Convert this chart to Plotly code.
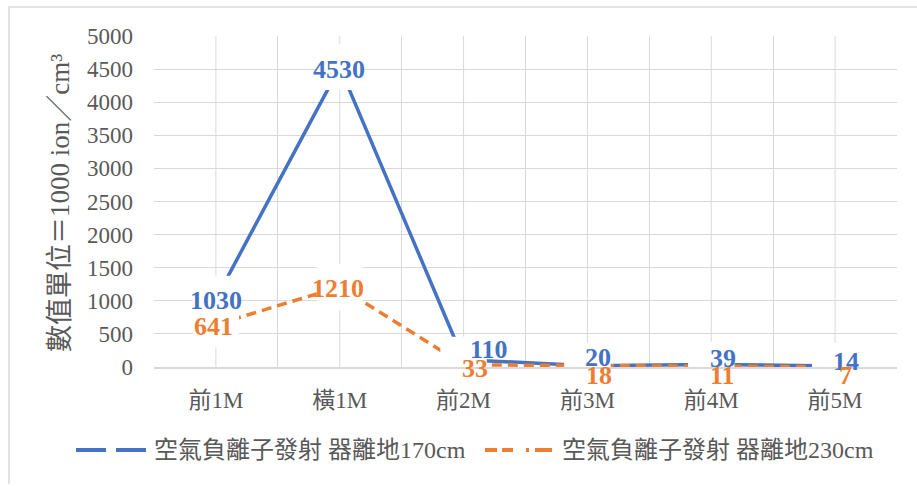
import plotly.graph_objects as go

# Measurement positions and negative-ion readings (unit: 1000 ion/cm³)
categories = ["前1M", "橫1M", "前2M", "前3M", "前4M", "前5M"]
series_170 = [1030, 4530, 110, 20, 39, 14]
series_230 = [641, 1210, 33, 18, 11, 7]
name_170 = "空氣負離子發射 器離地170cm"
name_230 = "空氣負離子發射 器離地230cm"
y_ticks = list(range(0, 5001, 500))

BLUE = "#4472C4"
ORANGE = "#ED7D31"
GRID = "#D9D9D9"
TEXT = "#595959"
SERIF = "Liberation Serif, Times New Roman, Noto Sans CJK TC, serif"

W, H = 917, 486
ML, MR, MT, MB = 154, 20, 36, 119
PW, PH = W - ML - MR, H - MT - MB


def px_x(px):
    """Convert a pixel column to paper x."""
    return (px - ML) / PW


def px_y(py):
    """Convert a pixel row to paper y."""
    return (H - MB - py) / PH


# label offsets (px) relative to each point: (xshift, yshift)
offs_170 = [(0, -2), (-1, -2), (25, 10), (11, 8), (12, 6), (11, 5)]
offs_230 = [(-2, -2), (-2, -2), (11, -4), (12, -10), (11, -9), (10, -9)]

fig = go.Figure()

fig.add_trace(go.Scatter(
    x=categories, y=series_170, mode="lines", name=name_170, showlegend=False,
    line=dict(color=BLUE, width=3.5), hoverinfo="skip"))
fig.add_trace(go.Scatter(
    x=categories, y=series_230, mode="lines", name=name_230, showlegend=False,
    line=dict(color=ORANGE, width=3.5, dash="10px,6px"), hoverinfo="skip"))

# white backdrops behind each point's label
for vals in (series_170, series_230):
    fig.add_trace(go.Scatter(
        x=categories, y=vals, mode="markers", showlegend=False,
        marker=dict(symbol="square", size=46, color="white", line=dict(width=0)),
        hoverinfo="skip", cliponaxis=True))

# vertical gridlines at category centres (boundary lines come from the axis)
for c in categories:
    fig.add_shape(type="line", xref="x", yref="paper", x0=c, x1=c, y0=0, y1=1,
                  line=dict(color=GRID, width=1), layer="below")

# data labels
for vals, offs, col in ((series_170, offs_170, BLUE), (series_230, offs_230, ORANGE)):
    for c, v, (dx, dy) in zip(categories, vals, offs):
        fig.add_annotation(x=c, y=v, text=f"<b>{v}</b>", showarrow=False,
                           xshift=dx, yshift=dy, xanchor="center", yanchor="middle",
                           font=dict(family=SERIF, size=26, color=col))

# y-axis title
fig.add_annotation(xref="paper", yref="paper", x=px_x(60), y=px_y(203),
                   xanchor="center", yanchor="middle",
                   text="數值單位＝1000 ion／cm³", textangle=-90, showarrow=False,
                   font=dict(family=SERIF, size=27, color=TEXT))

# legend: line samples and series names
legend_y = px_y(450)
fig.add_shape(type="line", xref="paper", yref="paper",
              x0=px_x(76), x1=px_x(146), y0=legend_y, y1=legend_y,
              line=dict(color=BLUE, width=4, dash="30px,10px"))
fig.add_shape(type="line", xref="paper", yref="paper",
              x0=px_x(485), x1=px_x(554), y0=legend_y, y1=legend_y,
              line=dict(color=ORANGE, width=4,
                        dash="12px,5px,11px,13px,3px,6px,17px,10px"))
for x0, label in ((152, name_170), (560, name_230)):
    fig.add_annotation(xref="paper", yref="paper", x=px_x(x0), y=legend_y,
                       xanchor="left", yanchor="middle", showarrow=False,
                       text=label, font=dict(family=SERIF, size=24, color=TEXT))

# chart-area border (left and top edges fall inside the page)
border_path = (f"M {px_x(9)},{px_y(484)} L {px_x(9)},{px_y(7)} "
               f"L {px_x(980)},{px_y(7)}")
fig.add_shape(type="path", xref="paper", yref="paper", path=border_path,
              line=dict(color=GRID, width=1.5), layer="below")

fig.update_layout(
    width=W, height=H,
    margin=dict(l=ML, r=MR, t=MT, b=MB, autoexpand=False),
    paper_bgcolor="white", plot_bgcolor="white",
    font=dict(family=SERIF, color=TEXT),
    showlegend=False,
    xaxis=dict(type="category", range=[-0.5, 5.5], tickson="boundaries",
               showgrid=True, gridcolor=GRID, gridwidth=1,
               showline=True, linecolor=GRID, linewidth=1.5,
               ticks="", ticklabelstandoff=12,
               tickfont=dict(family=SERIF, size=23, color=TEXT)),
    yaxis=dict(range=[0, 5000], tickvals=y_ticks, showgrid=True,
               gridcolor=GRID, gridwidth=1, zeroline=False, showline=False,
               ticks="", ticklabelstandoff=20,
               tickfont=dict(family=SERIF, size=23, color=TEXT)),
)

fig.write_html("out.html")
